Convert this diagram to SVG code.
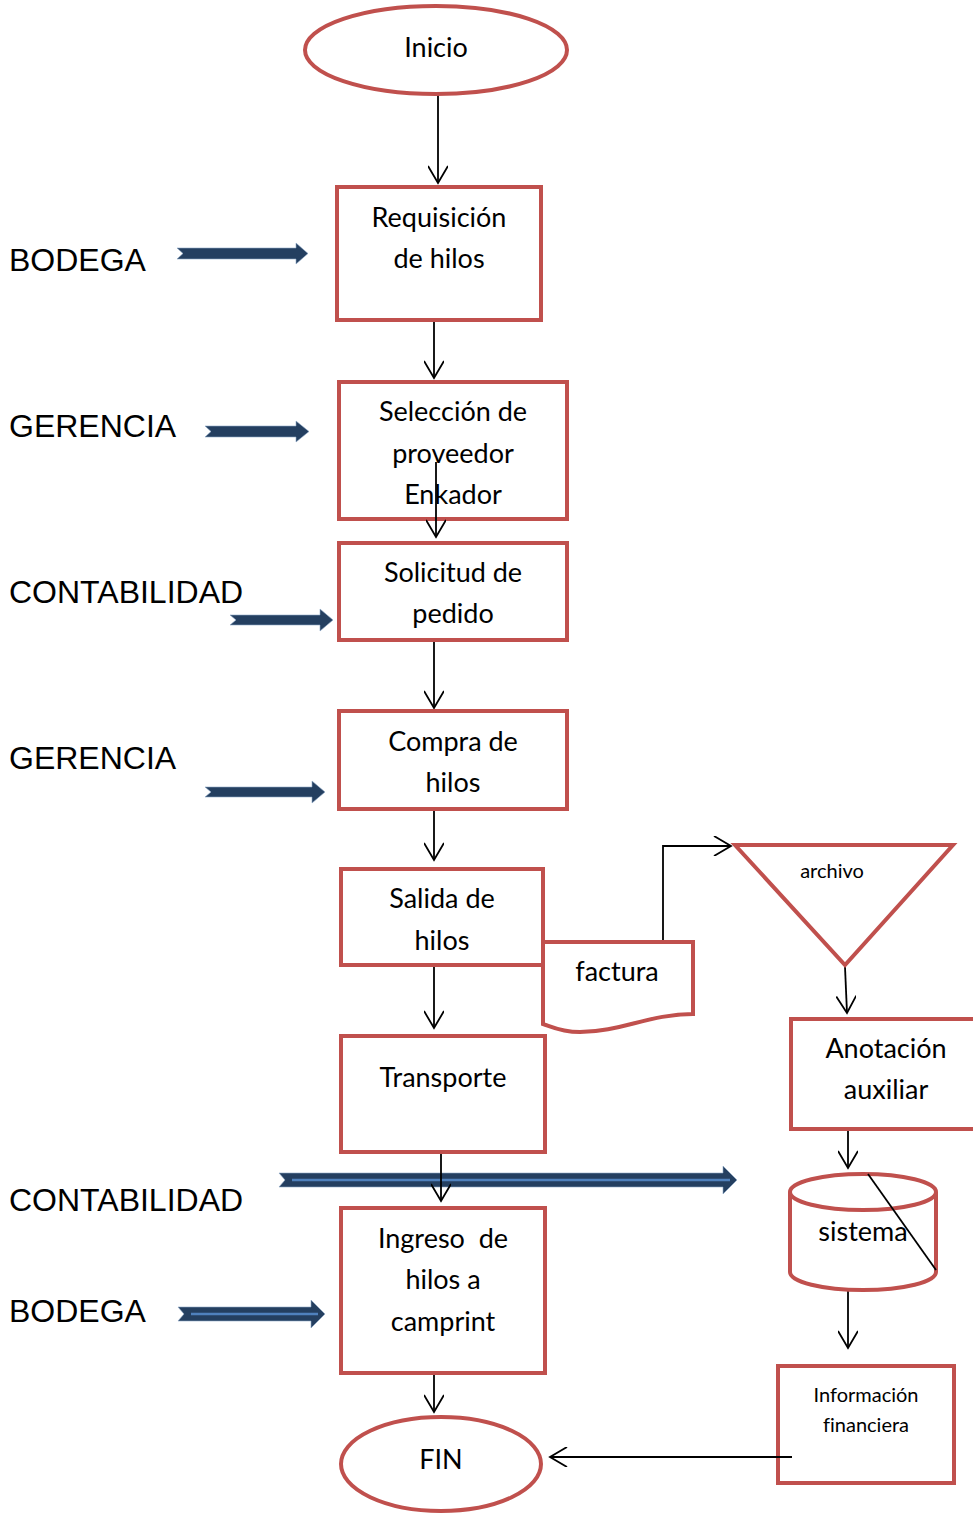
<svg xmlns="http://www.w3.org/2000/svg" width="973" height="1516" viewBox="0 0 973 1516">
  <style>
    .shape { fill: #ffffff; stroke: #C0504D; stroke-width: 4; }
    .t { font-family: Lato, "Open Sans", sans-serif; font-size: 27px; fill: #000; text-anchor: middle; font-variant-ligatures: none; }
    .ts { font-family: Lato, "Open Sans", sans-serif; font-size: 20px; fill: #000; text-anchor: middle; font-variant-ligatures: none; }
    .lbl { font-family: "Liberation Sans", Arial, sans-serif; font-size: 32px; fill: #000; }
    .conn { fill: none; stroke: #000; stroke-width: 1.8; }
    .blk { fill: #243F60; stroke: #8EA9C8; stroke-width: 0.6; }
    .inner { stroke: #4F81BD; stroke-width: 2.5; }
  </style>
  <defs>
    <marker id="open" viewBox="0 0 20 20" refX="18" refY="10" markerWidth="20" markerHeight="20" markerUnits="userSpaceOnUse" orient="auto">
      <path d="M1,0 L18,10 L1,20" fill="none" stroke="#000" stroke-width="1.8"/>
    </marker>
  </defs>
  <rect width="973" height="1516" fill="#ffffff"/>

  <!-- department labels -->
  <g id="labels">
    <text class="lbl" x="9" y="271">BODEGA</text>
    <text class="lbl" x="9" y="437">GERENCIA</text>
    <text class="lbl" x="9" y="603">CONTABILIDAD</text>
    <text class="lbl" x="9" y="769">GERENCIA</text>
    <text class="lbl" x="9" y="1211">CONTABILIDAD</text>
    <text class="lbl" x="9" y="1322">BODEGA</text>
  </g>

  <!-- block arrows pointing at the process -->
  <g id="block-arrows">
    <path class="blk" d="M177,248 L296,248 L296,243 L308,253.5 L296,264 L296,259 L177,259 L183,253.5 Z"/>
    <path class="blk" d="M205,426 L296,426 L296,421 L309,431.5 L296,442 L296,437 L205,437 L211,431.5 Z"/>
    <path class="blk" d="M230,615 L320,615 L320,609 L333,620 L320,631 L320,625 L230,625 L236,620 Z"/>
    <path class="blk" d="M205,787 L312,787 L312,781 L325,792 L312,803 L312,797 L205,797 L211,792 Z"/>
    <path class="blk" d="M279,1173 L723,1173 L723,1166 L737,1180 L723,1194 L723,1187 L279,1187 L285,1180 Z"/>
    <line class="inner" x1="292" y1="1180" x2="730" y2="1180"/>
    <path class="blk" d="M178,1307 L311,1307 L311,1300 L325,1314 L311,1328 L311,1321 L178,1321 L184,1314 Z"/>
    <line class="inner" x1="191" y1="1314" x2="318" y2="1314"/>
  </g>

  <!-- connectors -->
  <g id="connectors">
    <line class="conn" x1="438" y1="95" x2="438" y2="183" marker-end="url(#open)"/>
    <line class="conn" x1="434" y1="320" x2="434" y2="378" marker-end="url(#open)"/>
    <line class="conn" x1="434" y1="640" x2="434" y2="708" marker-end="url(#open)"/>
    <line class="conn" x1="434" y1="809" x2="434" y2="860" marker-end="url(#open)"/>
    <line class="conn" x1="434" y1="965" x2="434" y2="1028" marker-end="url(#open)"/>
    <line class="conn" x1="441" y1="1152" x2="441" y2="1201" marker-end="url(#open)"/>
    <line class="conn" x1="434" y1="1373" x2="434" y2="1412" marker-end="url(#open)"/>
    <path class="conn" d="M663,942 L663,846 L731,846" marker-end="url(#open)"/>
    <line class="conn" x1="845" y1="967" x2="847" y2="1013" marker-end="url(#open)"/>
    <line class="conn" x1="848" y1="1129" x2="848" y2="1168" marker-end="url(#open)"/>
    <line class="conn" x1="848" y1="1290" x2="848" y2="1348" marker-end="url(#open)"/>
  </g>

  <g id="inicio">
    <ellipse class="shape" cx="436" cy="50" rx="131" ry="44"/>
    <text class="t" x="436" y="57">Inicio</text>
  </g>

  <g id="requisicion">
    <rect class="shape" x="337" y="187" width="204" height="133"/>
    <text class="t" x="439" y="227">Requisición</text>
    <text class="t" x="439" y="268">de hilos</text>
  </g>

  <g id="seleccion">
    <rect class="shape" x="339" y="382" width="228" height="137"/>
    <text class="t" x="453" y="421">Selección de</text>
    <text class="t" x="453" y="463">proveedor</text>
    <text class="t" x="453" y="504">Enkador</text>
  </g>
  <!-- this connector starts inside the box and runs over its text -->
  <line class="conn" x1="436" y1="462" x2="436" y2="537" marker-end="url(#open)"/>

  <g id="solicitud">
    <rect class="shape" x="339" y="543" width="228" height="97"/>
    <text class="t" x="453" y="582">Solicitud de</text>
    <text class="t" x="453" y="623">pedido</text>
  </g>

  <g id="compra">
    <rect class="shape" x="339" y="711" width="228" height="98"/>
    <text class="t" x="453" y="751">Compra de</text>
    <text class="t" x="453" y="792">hilos</text>
  </g>

  <g id="salida">
    <rect class="shape" x="341" y="869" width="202" height="96"/>
    <text class="t" x="442" y="908">Salida de</text>
    <text class="t" x="442" y="950">hilos</text>
  </g>

  <g id="factura">
    <path class="shape" d="M543,942 L693,942 L693,1014 C650,1014 620,1032 580,1032 C560,1032 550,1026 543,1024 Z"/>
    <text class="t" x="617" y="981">factura</text>
  </g>

  <g id="archivo">
    <path class="shape" d="M735,845 L953,845 L845,965 Z"/>
    <text class="ts" x="832" y="878">archivo</text>
  </g>

  <g id="anotacion">
    <rect class="shape" x="791" y="1019" width="190" height="110"/>
    <text class="t" x="886" y="1058">Anotación</text>
    <text class="t" x="886" y="1099">auxiliar</text>
  </g>

  <g id="transporte">
    <rect class="shape" x="341" y="1036" width="204" height="116"/>
    <text class="t" x="443" y="1087">Transporte</text>
  </g>

  <g id="sistema">
    <path class="shape" d="M790,1192 L790,1272 A73,18 0 0 0 936,1272 L936,1192"/>
    <ellipse class="shape" cx="863" cy="1192" rx="73" ry="18"/>
    <text class="t" x="863" y="1241">sistema</text>
    <line class="conn" x1="868" y1="1174" x2="936" y2="1270"/>
  </g>

  <g id="ingreso">
    <rect class="shape" x="341" y="1208" width="204" height="165"/>
    <text class="t" x="443" y="1248" xml:space="preserve">Ingreso  de</text>
    <text class="t" x="443" y="1289">hilos a</text>
    <text class="t" x="443" y="1331">camprint</text>
  </g>

  <g id="informacion">
    <rect class="shape" x="778" y="1366" width="176" height="117"/>
    <text class="ts" x="866" y="1402">Información</text>
    <text class="ts" x="866" y="1432">financiera</text>
  </g>
  <!-- connector starts inside the box and runs left to FIN -->
  <line class="conn" x1="792" y1="1457" x2="550" y2="1457" marker-end="url(#open)"/>

  <g id="fin">
    <ellipse class="shape" cx="441" cy="1464" rx="100" ry="47"/>
    <text class="t" x="441" y="1469">FIN</text>
  </g>
</svg>
